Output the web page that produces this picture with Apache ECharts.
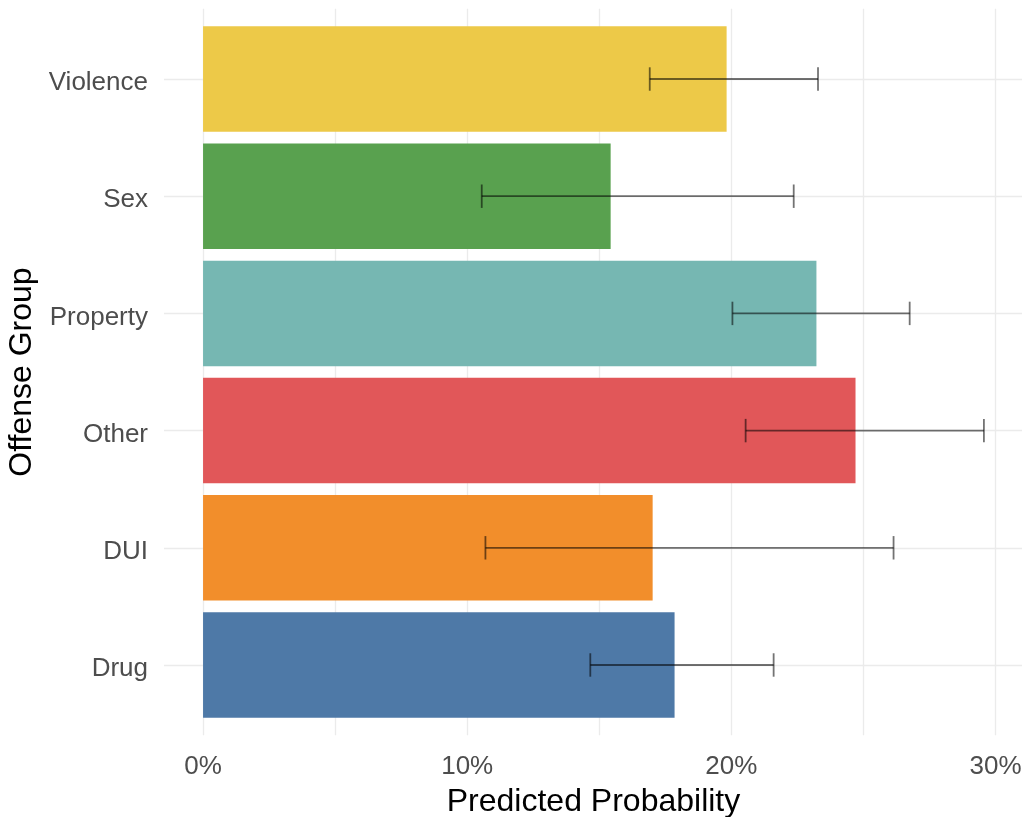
<!DOCTYPE html>
<html><head><meta charset="utf-8">
<script src="https://cdn.jsdelivr.net/npm/echarts@6/dist/echarts.min.js"></script>
<style>html,body{margin:0;padding:0;background:#fff}#c{width:1022px;height:817px}</style>
</head><body><div id="c"></div>
<script>
const categories = ['Drug', 'DUI', 'Other', 'Property', 'Sex', 'Violence'];
const probability = [17.85, 17.02, 24.70, 23.22, 15.43, 19.82];
const lowerCI = [14.66, 10.69, 20.54, 20.04, 10.55, 16.91];
const upperCI = [21.60, 26.14, 29.56, 26.75, 22.36, 23.28];
const xTickLabels = [0, 10, 20, 30];
const xGridValues = [0, 5, 10, 15, 20, 25, 30];
const colors = ['#4E79A7', '#F28E2B', '#E15759', '#76B7B2', '#59A14F', '#EDC948'];

const FONT = '"Liberation Sans", Arial, sans-serif';
const catPos = categories.map((c, i) => i + 1);

const barData = categories.map((c, i) => ({ value: [catPos[i], probability[i]], itemStyle: { color: colors[i] } }));
const errData = categories.map((c, i) => [catPos[i], lowerCI[i], upperCI[i]]);

const chart = echarts.init(document.getElementById('c'), null, { renderer: 'canvas' });
chart.setOption({
  backgroundColor: '#ffffff',
  animation: false,
  grid: { left: 164, top: 8.7, width: 859, height: 726.6, containLabel: false, outerBoundsMode: 'none' },
  xAxis: {
    type: 'value', min: -1.478, max: 31.04,
    axisLine: { show: false },
    axisTick: { show: false, customValues: xGridValues },
    splitLine: { show: true, lineStyle: { color: '#EBEBEB', width: 1.3 } },
    axisLabel: {
      customValues: xTickLabels, formatter: v => v + '%',
      color: '#4D4D4D', fontSize: 26, fontFamily: FONT, margin: 19
    },
    name: 'Predicted Probability', nameLocation: 'middle', nameGap: 51,
    nameTextStyle: { color: '#000', fontSize: 32, fontFamily: FONT }
  },
  yAxis: {
    type: 'value', min: 0.4, max: 6.6,
    axisLine: { show: false },
    axisTick: { show: false, customValues: catPos },
    splitLine: { show: true, lineStyle: { color: '#EBEBEB', width: 1.3 } },
    axisLabel: {
      customValues: catPos, formatter: v => '{c|' + (categories[Math.round(v) - 1] || '') + '}',
      color: '#4D4D4D', fontSize: 26, fontFamily: FONT, margin: 16,
      rich: { c: { color: '#4D4D4D', fontSize: 26, fontFamily: FONT, padding: [8, 0, 0, 0] } }
    },
    name: 'Offense Group', nameLocation: 'middle', nameGap: 122, nameRotate: 90,
    nameTextStyle: { color: '#000', fontSize: 32, fontFamily: FONT }
  },
  series: [
    {
      type: 'custom', data: barData,
      renderItem: (params, api) => {
        const y = api.value(0), v = api.value(1);
        const p0 = api.coord([0, y + 0.45]);
        const p1 = api.coord([v, y - 0.45]);
        return { type: 'rect', shape: { x: p0[0], y: p0[1], width: p1[0] - p0[0], height: p1[1] - p0[1] }, style: { fill: api.visual('color') } };
      }
    },
    {
      type: 'custom', data: errData, z: 5,
      renderItem: (params, api) => {
        const y = api.value(0), lo = api.value(1), hi = api.value(2);
        const a = api.coord([lo, y]), b = api.coord([hi, y]);
        const t = api.coord([lo, y + 0.1]), bt = api.coord([lo, y - 0.1]);
        const st = { stroke: 'rgba(0,0,0,0.55)', lineWidth: 1.8 };
        return { type: 'group', children: [
          { type: 'line', shape: { x1: a[0], y1: a[1], x2: b[0], y2: b[1] }, style: st },
          { type: 'line', shape: { x1: a[0], y1: t[1], x2: a[0], y2: bt[1] }, style: st },
          { type: 'line', shape: { x1: b[0], y1: t[1], x2: b[0], y2: bt[1] }, style: st }
        ] };
      }
    }
  ]
});
</script></body></html>
